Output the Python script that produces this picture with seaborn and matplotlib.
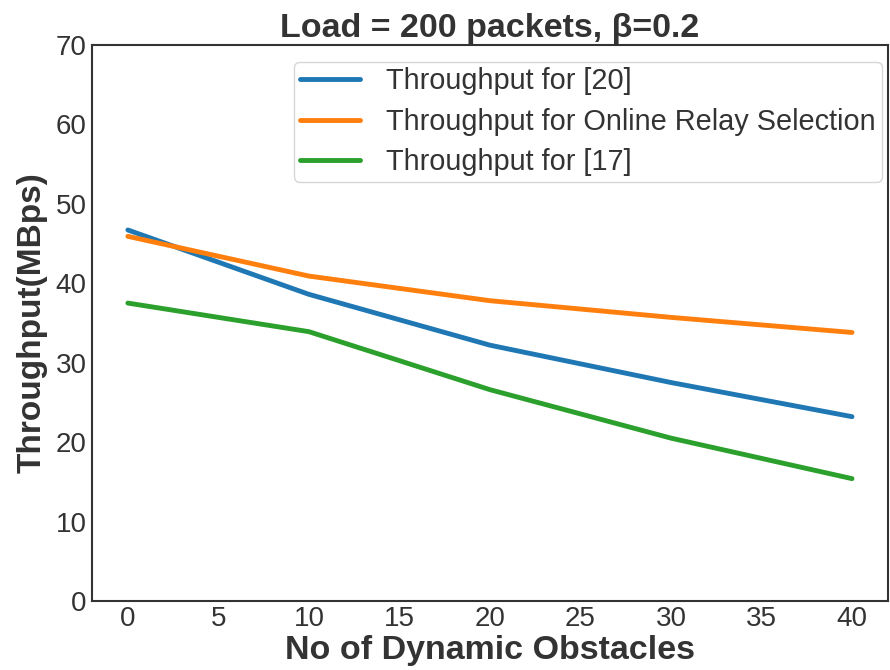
import matplotlib
matplotlib.use("Agg")
import matplotlib.pyplot as plt
import seaborn as sns
import pandas as pd

obstacles = [0, 10, 20, 30, 40]
thr_ref20 = [46.7, 38.6, 32.2, 27.5, 23.2]
thr_online = [45.9, 40.9, 37.8, 35.7, 33.8]
thr_ref17 = [37.5, 33.9, 26.6, 20.5, 15.4]
series_names = ["Throughput for [20]", "Throughput for Online Relay Selection", "Throughput for [17]"]

sns.set_style("white")
plt.rcParams['font.family'] = ['Liberation Sans', 'DejaVu Sans']
plt.rcParams['text.color'] = '#333333'
plt.rcParams['axes.labelcolor'] = '#333333'
plt.rcParams['xtick.color'] = '#333333'
plt.rcParams['ytick.color'] = '#333333'

df = pd.DataFrame({
    "x": obstacles * 3,
    "y": thr_ref20 + thr_online + thr_ref17,
    "series": [series_names[0]] * 5 + [series_names[1]] * 5 + [series_names[2]] * 5,
})

fig = plt.figure(figsize=(8.9, 6.7), dpi=100)
ax = fig.add_axes([0.103, 0.103, 0.895, 0.830])
sns.lineplot(data=df, x="x", y="y", hue="series", palette=["#1f77b4", "#ff7f0e", "#2ca02c"],
             linewidth=3.5, ax=ax)
ax.set_ylim(0, 70)
ax.set_xticks(range(0, 41, 5))
ax.set_yticks(range(0, 71, 10))
ax.tick_params(axis='both', labelsize=20, length=0)
ax.set_xlabel("No of Dynamic Obstacles", fontsize=24.5, fontweight='bold', labelpad=2)
ax.set_ylabel("Throughput(MBps)", fontsize=24, fontweight='bold', labelpad=6)
ax.set_title("Load = 200 packets, β=0.2", fontsize=24.5, fontweight='bold', pad=6)
for s in ax.spines.values():
    s.set_color('#333333')
    s.set_linewidth(1.5)
leg = ax.legend(loc='upper right', fontsize=20.8, frameon=True, handlelength=2.1,
                handletextpad=0.9, borderpad=0.2, labelspacing=0.43,
                bbox_to_anchor=(0.992, 0.97), borderaxespad=0)
leg.get_frame().set_edgecolor('#cccccc')
fig.savefig("out.png", dpi=100)
